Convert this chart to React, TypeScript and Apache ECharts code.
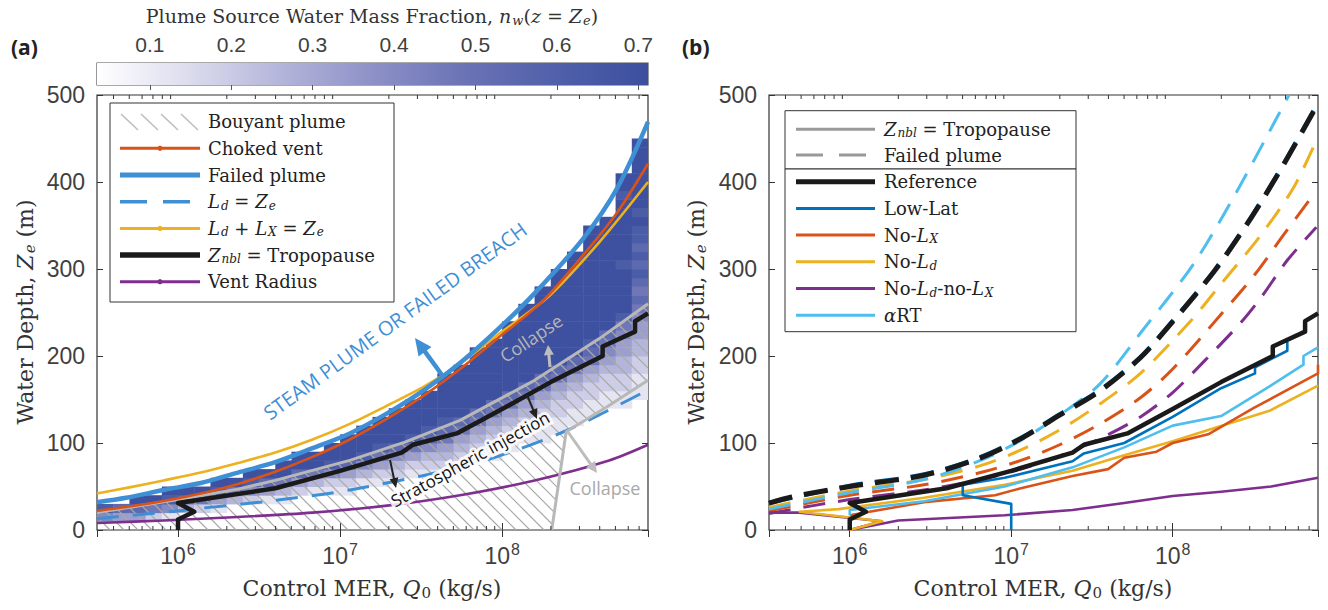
import React, { useEffect, useRef } from 'react';
import * as echarts from 'echarts';

// ---------- axis extents ----------
const LOG_Q_MIN = 5.5;
const LOG_Q_MAX = 8.9;
const DEPTH_MIN = 0;
const DEPTH_MAX = 500;
const DEPTH_STEP = 100;

// ---------- colour bar (water mass fraction) ----------
const NW_MIN = 0.035;
const NW_MAX = 0.712;
const nwColors = ['#ffffff', '#dcdcee', '#b4b5da', '#8d91c7', '#6b73b5', '#5060aa', '#3c4f9f'];

// ---------- heat map: one string per log10(Q) column (0.1 decade wide), one char per 10 m of depth ----------
const CELL_LOG_START = 5.5;
const CELL_LOG_WIDTH = 0.1;
const CELL_DEPTH = 10;
const nwLevels = [0.05, 0.12, 0.19, 0.26, 0.33, 0.4, 0.47, 0.54, 0.62, 0.7];
const nwColumns = [
  '.58',
  '.47',
  '.479',
  '.269',
  '.1589',
  '..379',
  '..269',
  '..1489',
  '...369',
  '...2589',
  '...1479',
  '...13699',
  '....24799',
  '....13699',
  '....125899',
  '....1247999',
  '.....1358999',
  '.....12468999',
  '......23579999',
  '......124689999',
  '......1235789999',
  '.......23467899999',
  '.......123467999999',
  '........1234679999999',
  '........11234679999999',
  '.........112346799999999',
  '..........1123467999999999',
  '..........112234679999999999',
  '...........1122346799999999999',
  '............11223467999999999999',
  '.............1122346789999999999999',
  '..............1122345679999999999999',
  '..............112233445689999989999999899',
  '...............111223344567678787889899999999',
];

// ---------- panel (a) curves: [log10 Q, depth m] ----------
const failedPlume = [[5.5, 32], [5.68, 37], [5.91, 46], [6.14, 54], [6.37, 66], [6.6, 78], [6.83, 94], [7.06, 111], [7.29, 134], [7.52, 161], [7.74, 192], [7.97, 230], [8.2, 272], [8.5, 335], [8.71, 393], [8.9, 469]];
const chokedVent = [[5.5, 22], [5.7, 27], [5.9, 33], [6.14, 42], [6.37, 53], [6.6, 67], [6.83, 84], [7.06, 104], [7.29, 128], [7.52, 155], [7.74, 185], [7.97, 220], [8.25, 263], [8.5, 316], [8.71, 365], [8.9, 421]];
const ldPlusLx = [[5.5, 42], [5.7, 49], [5.91, 57], [6.14, 66], [6.37, 77], [6.6, 89], [6.83, 104], [7.06, 122], [7.29, 143], [7.52, 165], [7.74, 191], [7.97, 224], [8.29, 269], [8.6, 331], [8.9, 400]];
const ldEqZe = [[5.5, 13], [6.0, 22], [6.14, 25], [6.6, 34], [7.06, 46], [7.74, 72], [8.09, 92], [8.43, 117], [8.9, 161]];
const ventRadius = [[5.5, 8], [5.91, 11], [6.37, 15], [6.83, 20], [7.29, 28], [7.74, 40], [8.2, 57], [8.66, 80], [8.9, 98]];
const refTropopause = [[6.0, 0], [6.0, 12], [6.1, 21], [6.0, 31], [6.6, 48], [7.0, 68], [7.38, 89], [7.45, 98], [7.72, 111], [8.0, 139], [8.3, 170], [8.62, 200], [8.62, 211], [8.82, 228], [8.82, 240], [8.9, 249]];
const collapseUpper = [[5.5, 20], [6.0, 35], [6.37, 47], [6.6, 57], [7.06, 80], [7.4, 101], [7.74, 126], [8.2, 172], [8.6, 220], [8.9, 260]];
const collapseLower = [[8.306, 0], [8.395, 113], [8.65, 142], [8.9, 172]];

// ---------- panel (b) curves ----------
const refFailed = [[5.5, 31], [5.64, 38], [6.0, 50], [6.46, 63], [6.81, 83], [7.06, 105], [7.3, 132], [7.55, 160], [7.8, 198], [7.97, 233], [8.26, 298], [8.49, 360], [8.69, 421], [8.89, 487]];
const lowLatFailed = [[5.5, 31], [6.0, 51], [6.46, 64], [6.81, 84], [7.06, 106], [7.3, 133], [7.55, 161], [7.8, 199], [7.97, 234], [8.26, 299], [8.49, 361], [8.69, 422], [8.89, 488]];
const artFailed = [[5.5, 24], [6.0, 43], [6.46, 58], [6.81, 80], [7.06, 103], [7.3, 132], [7.55, 168], [7.82, 231], [8.13, 306], [8.4, 390], [8.72, 500]];
const noLdFailed = [[5.5, 26], [6.0, 45], [6.46, 58], [6.81, 74], [7.06, 92], [7.3, 115], [7.55, 145], [7.8, 180], [8.11, 240], [8.3, 283], [8.55, 340], [8.75, 394], [8.89, 448]];
const noLxFailed = [[5.5, 22], [6.0, 40], [6.46, 52], [6.81, 66], [7.06, 80], [7.3, 98], [7.55, 122], [7.8, 152], [8.0, 185], [8.3, 248], [8.51, 294], [8.69, 340], [8.89, 390]];
const noLdLxFailed = [[5.5, 19], [6.0, 35], [6.46, 46], [6.81, 58], [7.06, 70], [7.3, 85], [7.55, 105], [7.8, 130], [8.0, 158], [8.2, 195], [8.42, 238], [8.55, 268], [8.71, 310], [8.89, 348]];

const lowLatTropo = [[7.0, 0], [7.0, 30], [6.7, 40], [6.7, 52], [6.96, 60], [7.38, 79], [7.45, 88], [7.7, 100], [8.0, 130], [8.3, 163], [8.51, 180], [8.51, 187], [8.71, 206], [8.71, 216]];
const noLxTropo = [[6.0, 17], [6.46, 32], [6.9, 40], [7.06, 48], [7.38, 62], [7.6, 70], [7.7, 83], [7.9, 90], [8.0, 100], [8.22, 110], [8.5, 140], [8.9, 180], [8.9, 190]];
const noLdTropo = [[6.0, 0], [6.2, 10], [5.69, 21], [5.93, 24], [6.46, 37], [6.96, 52], [7.38, 68], [7.7, 86], [8.0, 102], [8.22, 115], [8.6, 137], [8.9, 166]];
const artTropo = [[6.0, 17], [6.0, 23], [6.46, 33], [6.96, 50], [7.38, 72], [7.7, 95], [8.0, 120], [8.3, 131], [8.6, 165], [8.81, 190], [8.81, 200], [8.9, 210]];
const noLdLxTropo = [[5.5, 20], [5.69, 20], [6.2, 10], [6.0, 0], [6.3, 11], [6.96, 17], [7.38, 23], [7.7, 31], [8.0, 39], [8.3, 44], [8.61, 50], [8.9, 60]];

// ---------- colours ----------
const C_BLUE = '#0072bd';
const C_ORANGE = '#d95319';
const C_YELLOW = '#edb120';
const C_PURPLE = '#7e2f8e';
const C_LBLUE = '#4dbeee';
const C_FAIL = '#3f8fd5';
const C_GRAY = '#b8b8b8';
const C_BLACK = '#1a1a1a';
const AX = '#333333';
const TXT = '#404040';

const pow10 = (v: number) => Math.pow(10, v);
const toXY = (arr: number[][]) => arr.map(([lq, d]) => [pow10(lq), d]);

const Q_MIN = pow10(LOG_Q_MIN);
const Q_MAX = pow10(LOG_Q_MAX);

const heatCells: number[][] = [];
nwColumns.forEach((col, i) => {
  const q0 = pow10(CELL_LOG_START + i * CELL_LOG_WIDTH);
  const q1 = pow10(CELL_LOG_START + (i + 1) * CELL_LOG_WIDTH);
  for (let j = 0; j < col.length; j++) {
    const ch = col[j];
    if (ch === '.') continue;
    heatCells.push([q0, q1, j * CELL_DEPTH, (j + 1) * CELL_DEPTH, nwLevels[Number(ch)]]);
  }
});

const minorTicks: number[][] = [];
for (let e = 5; e <= 8; e++) {
  for (let m = 2; m <= 9; m++) {
    const q = m * pow10(e);
    if (q > Q_MIN && q < Q_MAX) minorTicks.push([q, 0]);
  }
}

const hatchPolygon = [[LOG_Q_MIN, 0], ...collapseUpper, ...collapseLower.slice().reverse()];

const SANS = 'Liberation Sans';
const SERIF = "'DejaVu Serif', 'Liberation Serif', serif";

const decadeLabel = (v: number) => {
  const n = Math.log10(v);
  const r = Math.round(n);
  if (Math.abs(n - r) < 1e-6) return '{b|10}{s|' + r + '}';
  return '';
};

const xAxisBottom = (gridIndex: number) => ({
  type: 'log', gridIndex, min: Q_MIN, max: Q_MAX, logBase: 10,
  axisLine: { show: false },
  axisTick: { inside: true, length: 7, lineStyle: { color: AX, width: 1 } },
  splitLine: { show: false },
  axisLabel: {
    formatter: decadeLabel, showMinLabel: false, showMaxLabel: false, margin: 12,
    rich: {
      b: { fontFamily: SANS, fontSize: 23, color: TXT, lineHeight: 28 },
      s: { fontFamily: SANS, fontSize: 16, color: TXT, lineHeight: 16, padding: [0, 0, 14, 1] },
    },
  },
});
const xAxisTop = (gridIndex: number) => ({
  type: 'log', gridIndex, min: Q_MIN, max: Q_MAX, logBase: 10, position: 'top',
  axisLine: { show: false },
  axisTick: { inside: true, length: 7, lineStyle: { color: AX, width: 1 } },
  splitLine: { show: false }, axisLabel: { show: false },
});
const yAxisLeft = (gridIndex: number) => ({
  type: 'value', gridIndex, min: DEPTH_MIN, max: DEPTH_MAX, interval: DEPTH_STEP,
  axisLine: { show: false },
  axisTick: { inside: true, length: 6, lineStyle: { color: AX, width: 1 } },
  splitLine: { show: false },
  axisLabel: { fontFamily: SANS, fontSize: 23, color: TXT, margin: 12 },
});
const yAxisRight = (gridIndex: number) => ({
  type: 'value', gridIndex, min: DEPTH_MIN, max: DEPTH_MAX, interval: DEPTH_STEP, position: 'right',
  axisLine: { show: false },
  axisTick: { inside: true, length: 6, lineStyle: { color: AX, width: 1 } },
  splitLine: { show: false }, axisLabel: { show: false },
});

const lineSeries = (data: number[][], xi: number, yi: number, color: string, width: number, opts: any = {}) => ({
  type: 'line', xAxisIndex: xi, yAxisIndex: yi, data: toXY(data), showSymbol: false, symbol: 'none', silent: true,
  clip: true, lineStyle: { color, width, type: opts.dash || 'solid', cap: 'butt', join: 'round' },
  smooth: opts.smooth || false, z: opts.z || 3,
});

const minorTickSeries = (xi: number, yi: number) => ({
  type: 'custom', xAxisIndex: xi, yAxisIndex: yi, data: minorTicks, silent: true, clip: false, z: 8,
  renderItem: (params: any, api: any) => {
    const cs = params.coordSys;
    const x = api.coord([api.value(0), 0])[0];
    const st = { stroke: AX, lineWidth: 1 };
    return {
      type: 'group',
      children: [
        { type: 'line', shape: { x1: x, y1: cs.y + cs.height, x2: x, y2: cs.y + cs.height - 4 }, style: st },
        { type: 'line', shape: { x1: x, y1: cs.y, x2: x, y2: cs.y + 4 }, style: st },
      ],
    };
  },
});

// ---------- rich text helpers for graphic ----------
const richSerif = (size: number, color: string) => ({
  n: { fontFamily: SERIF, fontSize: size, fill: color, lineHeight: size + 6 },
  i: { fontFamily: SERIF, fontStyle: 'italic', fontSize: size, fill: color, lineHeight: size + 6 },
  s: { fontFamily: SERIF, fontStyle: 'italic', fontSize: Math.round(size * 0.68), fill: color, lineHeight: size + 6, padding: [Math.round(size * 0.45), 0, 0, 1] },
  r: { fontFamily: SERIF, fontSize: Math.round(size * 0.68), fill: color, lineHeight: size + 6, padding: [Math.round(size * 0.45), 0, 0, 1] },
});

const arrow = (x1: number, y1: number, x2: number, y2: number, color: string, w: number, hl: number, hw: number) => {
  const dx = x2 - x1, dy = y2 - y1, L = Math.hypot(dx, dy);
  const ux = dx / L, uy = dy / L;
  const bx = x2 - ux * hl, by = y2 - uy * hl;
  const px = -uy, py = ux;
  return [
    { type: 'line', z: 30, shape: { x1, y1, x2: bx + ux, y2: by + uy }, style: { stroke: color, lineWidth: w } },
    { type: 'polygon', z: 30, shape: { points: [[x2, y2], [bx + px * hw / 2, by + py * hw / 2], [bx - px * hw / 2, by - py * hw / 2]] }, style: { fill: color } },
  ];
};

const legendLine = (x1: number, x2: number, y: number, color: string, w: number, dash?: number[], dot?: boolean) => {
  const els: any[] = [{ type: 'line', z: 41, shape: { x1, y1: y, x2, y2: y }, style: { stroke: color, lineWidth: w, lineDash: dash || null } }];
  if (dot) els.push({ type: 'circle', z: 42, shape: { cx: (x1 + x2) / 2, cy: y, r: 2.6 }, style: { fill: color } });
  return els;
};
const legendText = (x: number, y: number, text: string) => ({
  type: 'text', z: 42, x, y, style: { text, rich: richSerif(18, '#222'), verticalAlign: 'middle', align: 'left' },
});

function buildGraphic() {
  const g: any[] = [];
  // panel tags
  g.push({ type: 'text', z: 40, x: 11, y: 47, style: { text: '(a)', font: 'bold 21px "Open Sans"', fill: '#222', verticalAlign: 'middle' } });
  g.push({ type: 'text', z: 40, x: 682, y: 47, style: { text: '(b)', font: 'bold 21px "Open Sans"', fill: '#222', verticalAlign: 'middle' } });
  // titles
  g.push({ type: 'text', z: 40, x: 372, y: 16, style: { text: '{n|Plume Source Water Mass Fraction, }{i|n}{s|w}{n|(}{i|z}{n| = }{i|Z}{s|e}{n|)}', rich: richSerif(19, '#333'), align: 'center', verticalAlign: 'middle' } });
  const yTitle = '{n|Water Depth, }{i|Z}{s|e}{n| (m)}';
  const xTitle = '{n|Control MER, }{i|Q}{r|0}{n| (kg/s)}';
  g.push({ type: 'text', z: 40, x: 25, y: 312, rotation: Math.PI / 2, style: { text: yTitle, rich: richSerif(22, '#333'), align: 'center', verticalAlign: 'middle' } });
  g.push({ type: 'text', z: 40, x: 696, y: 312, rotation: Math.PI / 2, style: { text: yTitle, rich: richSerif(22, '#333'), align: 'center', verticalAlign: 'middle' } });
  g.push({ type: 'text', z: 40, x: 372, y: 588, style: { text: xTitle, rich: richSerif(22, '#333'), align: 'center', verticalAlign: 'middle' } });
  g.push({ type: 'text', z: 40, x: 1043, y: 588, style: { text: xTitle, rich: richSerif(22, '#333'), align: 'center', verticalAlign: 'middle' } });

  // annotations panel (a)
  g.push({ type: 'text', z: 30, x: 395, y: 321, rotation: (36 * Math.PI) / 180, style: { text: 'STEAM PLUME OR FAILED BREACH', font: '20px "Open Sans"', fill: C_FAIL, align: 'center', verticalAlign: 'middle' } });
  g.push(...arrow(442, 375, 415, 338, C_FAIL, 4.5, 17, 16));
  g.push(...arrow(527, 395, 537, 419, '#222', 2, 10, 9));
  g.push(...arrow(390, 460, 396, 488, '#222', 2, 10, 9));
  g.push(...arrow(550, 367, 548, 345, '#bdbdbd', 3, 10, 10));
  g.push(...arrow(568, 432, 597, 473, '#bdbdbd', 3, 11, 11));
  g.push({ type: 'text', z: 30, x: 531, y: 338, rotation: (34 * Math.PI) / 180, style: { text: 'Collapse', font: '18px "Open Sans"', fill: '#b5b5b5', align: 'center', verticalAlign: 'middle' } });
  g.push({ type: 'text', z: 30, x: 605, y: 488, style: { text: 'Collapse', font: '18px "Open Sans"', fill: '#a9a9a9', align: 'center', verticalAlign: 'middle' } });
  const stratRot = (29 * Math.PI) / 180;
  g.push({ type: 'text', z: 29, x: 470, y: 459, rotation: stratRot, style: { text: 'Stratospheric injection', font: '17px "Open Sans"', fill: '#ffffff', stroke: 'rgba(255,255,255,0.85)', lineWidth: 6, align: 'center', verticalAlign: 'middle' } });
  g.push({ type: 'text', z: 30, x: 470, y: 459, rotation: stratRot, style: { text: 'Stratospheric injection', font: '17px "Open Sans"', fill: '#111', align: 'center', verticalAlign: 'middle' } });

  // legend (a)
  g.push({ type: 'rect', z: 40, shape: { x: 110, y: 103, width: 284, height: 199 }, style: { fill: '#fff', stroke: AX, lineWidth: 1 } });
  const ly = (i: number) => 121.7 + 26.67 * i;
  for (let k = 0; k < 4; k++) {
    g.push({ type: 'line', z: 41, shape: { x1: 121 + 20 * k, y1: 114, x2: 138 + 20 * k, y2: 130 }, style: { stroke: '#bdbdbd', lineWidth: 1.5 } });
  }
  g.push(...legendLine(120, 200, ly(1), C_ORANGE, 3, undefined, true));
  g.push(...legendLine(120, 200, ly(2), C_FAIL, 5));
  g.push(...legendLine(120, 200, ly(3), C_FAIL, 3.5, [27, 16]));
  g.push(...legendLine(120, 200, ly(4), C_YELLOW, 3, undefined, true));
  g.push(...legendLine(120, 200, ly(5), C_BLACK, 5.5));
  g.push(...legendLine(120, 200, ly(6), C_PURPLE, 3, undefined, true));
  const leftTexts = [
    '{n|Bouyant plume}',
    '{n|Choked vent}',
    '{n|Failed plume}',
    '{i|L}{s|d}{n| = }{i|Z}{s|e}',
    '{i|L}{s|d}{n| + }{i|L}{s|X}{n| = }{i|Z}{s|e}',
    '{i|Z}{s|nbl}{n| = Tropopause}',
    '{n|Vent Radius}',
  ];
  leftTexts.forEach((t, i) => g.push(legendText(208, ly(i), t)));

  // legend (b)
  g.push({ type: 'rect', z: 40, shape: { x: 785, y: 110.7, width: 291, height: 58.3 }, style: { fill: '#fff', stroke: AX, lineWidth: 1 } });
  g.push({ type: 'rect', z: 40, shape: { x: 785, y: 169, width: 291, height: 162.7 }, style: { fill: '#fff', stroke: AX, lineWidth: 1 } });
  const ry = [129.3, 155, 181.7, 208.4, 235.1, 261.8, 288.5, 315.2];
  g.push(...legendLine(796, 875, ry[0], '#999999', 3));
  g.push(...legendLine(796, 875, ry[1], '#999999', 3, [27, 16]));
  g.push(...legendLine(796, 875, ry[2], C_BLACK, 5));
  g.push(...legendLine(796, 875, ry[3], C_BLUE, 3));
  g.push(...legendLine(796, 875, ry[4], C_ORANGE, 3));
  g.push(...legendLine(796, 875, ry[5], C_YELLOW, 3));
  g.push(...legendLine(796, 875, ry[6], C_PURPLE, 3));
  g.push(...legendLine(796, 875, ry[7], C_LBLUE, 3));
  const rightTexts = [
    '{i|Z}{s|nbl}{n| = Tropopause}',
    '{n|Failed plume}',
    '{n|Reference}',
    '{n|Low-Lat}',
    '{n|No-}{i|L}{s|X}',
    '{n|No-}{i|L}{s|d}',
    '{n|No-}{i|L}{s|d}{n|-no-}{i|L}{s|X}',
    '{i|α}{n|RT}',
  ];
  rightTexts.forEach((t, i) => g.push(legendText(884, ry[i], t)));
  return g;
}

function buildOption() {
  const series: any[] = [];
  // 0: heat map
  series.push({
    type: 'custom', xAxisIndex: 0, yAxisIndex: 0, data: heatCells, clip: true, silent: true, z: 1,
    encode: { x: [0, 1], y: [2, 3] },
    renderItem: (params: any, api: any) => {
      const p0 = api.coord([api.value(0), api.value(3)]);
      const p1 = api.coord([api.value(1), api.value(2)]);
      return {
        type: 'rect',
        shape: { x: p0[0], y: p0[1], width: p1[0] - p0[0] + 0.5, height: p1[1] - p0[1] + 0.5 },
        style: { fill: api.visual('color') },
      };
    },
  });
  // 1: hatch of buoyant plume region
  series.push({
    type: 'custom', xAxisIndex: 0, yAxisIndex: 0, data: [[Q_MIN, 0]], clip: true, silent: true, z: 2,
    renderItem: (params: any, api: any) => {
      const poly = hatchPolygon.map(([lq, d]) => api.coord([pow10(lq), d]));
      const cs = poly.map((p: number[]) => p[1] - p[0]);
      const cMin = Math.min(...cs), cMax = Math.max(...cs);
      const step = 14;
      const children: any[] = [];
      for (let c = Math.ceil(cMin / step) * step; c <= cMax; c += step) {
        const hits: number[] = [];
        for (let k = 0; k < poly.length; k++) {
          const a = poly[k], b = poly[(k + 1) % poly.length];
          const ga = a[1] - a[0] - c, gb = b[1] - b[0] - c;
          if ((ga < 0) !== (gb < 0)) {
            const t = ga / (ga - gb);
            hits.push(a[0] + t * (b[0] - a[0]));
          }
        }
        hits.sort((u, v) => u - v);
        for (let h = 0; h + 1 < hits.length; h += 2) {
          children.push({ type: 'line', shape: { x1: hits[h], y1: hits[h] + c, x2: hits[h + 1], y2: hits[h + 1] + c }, style: { stroke: '#a9a9a9', lineWidth: 1.2 } });
        }
      }
      return { type: 'group', children };
    },
  });
  series.push(minorTickSeries(0, 0));
  // panel (a) lines
  series.push(lineSeries(ventRadius, 0, 0, C_PURPLE, 2.6, { smooth: 0.3, z: 3 }));
  series.push(lineSeries(ldEqZe, 0, 0, C_FAIL, 3, { dash: [22, 14], smooth: 0.3, z: 3 }));
  series.push(lineSeries(collapseUpper, 0, 0, C_GRAY, 3, { z: 4 }));
  series.push(lineSeries(collapseLower, 0, 0, C_GRAY, 3, { z: 4 }));
  series.push(lineSeries(refTropopause, 0, 0, C_BLACK, 4.5, { z: 5 }));
  series.push(lineSeries(ldPlusLx, 0, 0, C_YELLOW, 2.6, { smooth: 0.3, z: 5 }));
  series.push(lineSeries(chokedVent, 0, 0, C_ORANGE, 2.6, { smooth: 0.3, z: 6 }));
  series.push(lineSeries(failedPlume, 0, 0, C_FAIL, 4.5, { smooth: 0.3, z: 7 }));

  // panel (b)
  series.push(minorTickSeries(2, 2));
  series.push(lineSeries(noLdLxFailed, 2, 2, C_PURPLE, 3, { dash: [22, 13], smooth: 0.3 }));
  series.push(lineSeries(noLxFailed, 2, 2, C_ORANGE, 3, { dash: [22, 13], smooth: 0.3 }));
  series.push(lineSeries(noLdFailed, 2, 2, C_YELLOW, 3, { dash: [22, 13], smooth: 0.3 }));
  series.push(lineSeries(artFailed, 2, 2, C_LBLUE, 3, { dash: [22, 13], smooth: 0.3 }));
  series.push(lineSeries(lowLatFailed, 2, 2, C_BLUE, 4, { dash: [24, 12], smooth: 0.3 }));
  series.push(lineSeries(refFailed, 2, 2, C_BLACK, 5, { dash: [24, 12], smooth: 0.3, z: 4 }));
  series.push(lineSeries(noLdLxTropo, 2, 2, C_PURPLE, 2.6, { z: 5 }));
  series.push(lineSeries(noLdTropo, 2, 2, C_YELLOW, 2.6, { z: 5 }));
  series.push(lineSeries(noLxTropo, 2, 2, C_ORANGE, 2.6, { z: 5 }));
  series.push(lineSeries(artTropo, 2, 2, C_LBLUE, 2.6, { z: 5 }));
  series.push(lineSeries(lowLatTropo, 2, 2, C_BLUE, 2.6, { z: 5 }));
  series.push(lineSeries(refTropopause, 2, 2, C_BLACK, 4.5, { z: 6 }));

  // colour bar
  const stops = nwColors.map((c, i) => ({ offset: i / (nwColors.length - 1), color: c }));
  series.push({
    type: 'custom', xAxisIndex: 4, yAxisIndex: 4, data: [[NW_MIN, NW_MAX]], silent: true, clip: false, z: 1,
    encode: { x: [0, 1] },
    renderItem: (params: any, api: any) => {
      const p0 = api.coord([api.value(0), 1]);
      const p1 = api.coord([api.value(1), 0]);
      return {
        type: 'rect',
        shape: { x: p0[0], y: p0[1], width: p1[0] - p0[0], height: p1[1] - p0[1] },
        style: { fill: { type: 'linear', x: 0, y: 0, x2: 1, y2: 0, colorStops: stops } },
      };
    },
  });

  return {
    animation: false,
    backgroundColor: '#ffffff',
    textStyle: { fontFamily: SANS },
    grid: [
      { left: 97, top: 95, width: 551, height: 435, show: true, borderColor: AX, borderWidth: 1.2, backgroundColor: 'transparent' },
      { left: 769, top: 95, width: 549, height: 435, show: true, borderColor: AX, borderWidth: 1.2, backgroundColor: 'transparent' },
      { left: 97, top: 63, width: 551, height: 22, show: true, borderColor: '#555', borderWidth: 1.2, backgroundColor: 'transparent' },
    ],
    xAxis: [
      xAxisBottom(0),
      xAxisTop(0),
      xAxisBottom(1),
      xAxisTop(1),
      {
        type: 'value', gridIndex: 2, min: NW_MIN, max: NW_MAX, splitNumber: 6, position: 'top',
        axisLine: { show: false }, splitLine: { show: false },
        axisTick: { inside: true, length: 5, lineStyle: { color: '#555' } },
        axisLabel: {
          showMinLabel: false, showMaxLabel: false, margin: 8, fontFamily: SANS, fontSize: 21, color: TXT,
          formatter: (v: number) => {
            const r = Math.round(v * 10) / 10;
            return Math.abs(v - r) < 1e-6 && r >= 0.1 ? r.toFixed(1) : '';
          },
        },
      },
    ],
    yAxis: [
      yAxisLeft(0),
      yAxisRight(0),
      yAxisLeft(1),
      yAxisRight(1),
      { type: 'value', gridIndex: 2, min: 0, max: 1, show: false },
    ],
    visualMap: {
      type: 'continuous', show: false, min: NW_MIN, max: NW_MAX, dimension: 4, seriesIndex: 0,
      inRange: { color: nwColors },
    },
    series,
    graphic: { elements: buildGraphic() },
  };
}

export default function App() {
  const ref = useRef<HTMLDivElement>(null);
  useEffect(() => {
    if (!ref.current) return;
    const chart = echarts.init(ref.current, undefined, { renderer: 'svg' });
    chart.setOption(buildOption() as any);
    return () => chart.dispose();
  }, []);
  return <div ref={ref} style={{ position: 'absolute', left: 0, top: 0, width: 1328, height: 610, background: '#fff' }} />;
}
